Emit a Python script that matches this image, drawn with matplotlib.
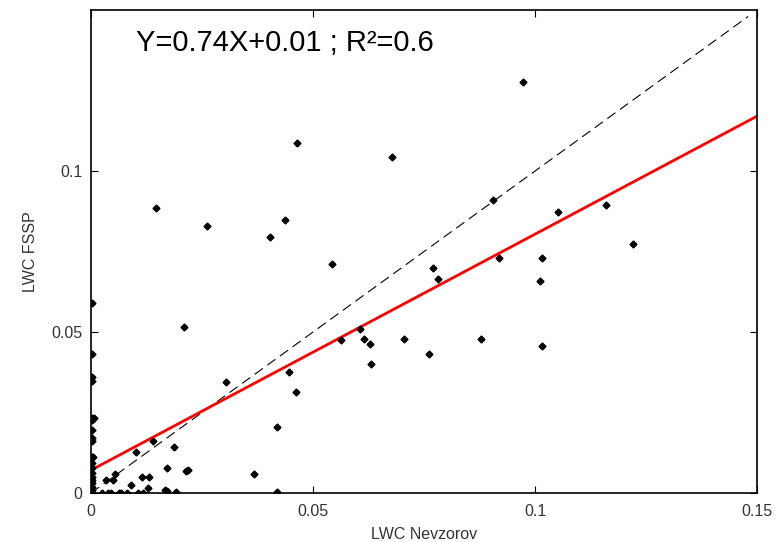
import numpy as np
import matplotlib
matplotlib.use('Agg')
import matplotlib.pyplot as plt

plt.rcParams['font.family'] = ['Liberation Sans', 'DejaVu Sans']

# LWC points (Nevzorov, FSSP)
lwc_nev = [0.0146, 0.0261, 0.0403, 0.0437, 0.0465, 0.0678, 0.0973, 0.0906, 0.1051, 0.1161,
           0.1220, 0.0919, 0.1015, 0.0770, 0.0781, 0.1011, 0.0705, 0.0761, 0.0879, 0.1016,
           0.0543, 0.0209, 0.0606, 0.0563, 0.0614, 0.0628, 0.0631, 0.0304, 0.0445, 0.0462,
           0.0420, 0.0366, 0.0420, 0.0188, 0.0140, 0.0102, 0.0171, 0.0213, 0.0218, 0.0055,
           0.0033, 0.0050, 0.0115, 0.0131, 0.0089, 0.0129, 0.0166, 0.0170, 0.0192,
           0.0025, 0.0038, 0.0044, 0.0062, 0.0068, 0.0080, 0.0106, 0.0116,
           0.0002, 0.0002, 0.0002, 0.0002, 0.0002, 0.0002, 0.0002, 0.0002, 0.0002, 0.0002,
           0.0002, 0.0002, 0.0002, 0.0002, 0.0002, 0.0002, 0.0002, 0.0002, 0.0002,
           0.0005, 0.0006]
lwc_fssp = [0.0886, 0.0829, 0.0794, 0.0847, 0.1088, 0.1045, 0.1276, 0.0909, 0.0874, 0.0896,
            0.0773, 0.0731, 0.0731, 0.0698, 0.0664, 0.0658, 0.0479, 0.0431, 0.0479, 0.0457,
            0.0712, 0.0515, 0.0510, 0.0475, 0.0477, 0.0462, 0.0401, 0.0345, 0.0375, 0.0314,
            0.0205, 0.0060, 0.0004, 0.0144, 0.0161, 0.0126, 0.0078, 0.0069, 0.0071, 0.0060,
            0.0041, 0.0041, 0.0051, 0.0049, 0.0024, 0.0017, 0.0010, 0.0006, 0.0002,
            0.0, 0.0, 0.0, 0.0, 0.0, 0.0, 0.0, 0.0,
            0.0589, 0.0432, 0.0361, 0.0349, 0.0234, 0.0227, 0.0196, 0.0172, 0.0160, 0.0113,
            0.0092, 0.0077, 0.0063, 0.0051, 0.0040, 0.0030, 0.0020, 0.0009, 0.0,
            0.0113, 0.0232]

slope = 0.733
intercept = 0.0071
fit_x = [0, 0.15]
diag_x = [0, 0.148]

fig = plt.figure(figsize=(7.78, 5.42), dpi=100)
ax = fig.add_axes([0.117, 0.0904, 0.856, 0.891])

ax.plot(diag_x, diag_x, color='black', linestyle=(0, (9, 5)), linewidth=0.8)
ax.plot(fit_x, [slope * v + intercept for v in fit_x], color='red', linewidth=2)
ax.plot(lwc_nev, lwc_fssp, linestyle='none', marker='D', markersize=3.5, color='black')

ax.set_xlim(0, 0.15)
ax.set_ylim(0, 0.15)
ax.set_xticks([0, 0.05, 0.1, 0.15])
ax.set_xticklabels(['0', '0.05', '0.1', '0.15'])
ax.set_yticks([0, 0.05, 0.1])
ax.set_yticklabels(['0', '0.05', '0.1'])
ax.tick_params(direction='in', top=True, right=True, length=5, labelsize=11.5,
               labelcolor='#333333')
ax.tick_params(axis='x', pad=8)
ax.tick_params(axis='y', pad=6)
for s in ax.spines.values():
    s.set_linewidth(1.2)

ax.set_xlabel('LWC Nevzorov', fontsize=11.5, color='#333333', labelpad=6)
ax.set_ylabel('LWC FSSP', fontsize=11.5, color='#333333', labelpad=10)

ax.text(0.067, 0.932, 'Y=0.74X+0.01 ; R²=0.6', transform=ax.transAxes,
        fontsize=21, va='center', ha='left')

fig.savefig('out.png', dpi=100)
